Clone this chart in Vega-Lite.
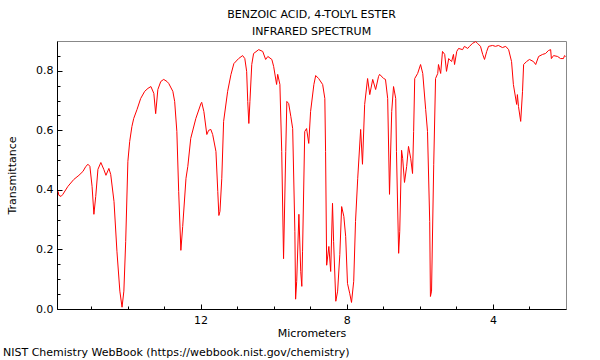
{
  "$schema": "https://vega.github.io/schema/vega-lite/v6.json",
  "background": "white",
  "padding": {"left": 3, "top": 8, "right": 0, "bottom": 0},
  "config": {
    "font": "DejaVu Sans",
    "view": {"stroke": "#888888", "strokeWidth": 1},
    "axis": {"grid": false, "domainColor": "#000000", "tickColor": "#000000", "labelColor": "#000000", "titleColor": "#000000", "labelFontSize": 11, "titleFontSize": 11, "titleFontWeight": "normal", "labelFont": "DejaVu Sans", "titleFont": "DejaVu Sans"}
  },
  "title": {"text": "NIST Chemistry WebBook (https://webbook.nist.gov/chemistry)", "orient": "bottom", "anchor": "start", "fontSize": 11, "fontWeight": "normal", "font": "DejaVu Sans", "color": "#000000", "offset": 8, "dx": -3},
  "vconcat": [
    {
      "width": 509,
      "height": 268,
      "title": {"text": ["BENZOIC ACID, 4-TOLYL ESTER", "INFRARED SPECTRUM"], "fontSize": 11, "fontWeight": "normal", "font": "DejaVu Sans", "color": "#000000", "lineHeight": 17, "offset": 4, "anchor": "middle"},
      "data": {"values": [
        {"um": 15.90, "t": 0.395}, {"um": 15.88, "t": 0.382}, {"um": 15.82, "t": 0.378}, {"um": 15.77, "t": 0.385},
        {"um": 15.63, "t": 0.412}, {"um": 15.47, "t": 0.435}, {"um": 15.33, "t": 0.449}, {"um": 15.22, "t": 0.462},
        {"um": 15.14, "t": 0.479}, {"um": 15.08, "t": 0.486}, {"um": 15.03, "t": 0.479}, {"um": 14.97, "t": 0.412},
        {"um": 14.92, "t": 0.318}, {"um": 14.87, "t": 0.378}, {"um": 14.81, "t": 0.469}, {"um": 14.73, "t": 0.492},
        {"um": 14.65, "t": 0.469}, {"um": 14.59, "t": 0.449}, {"um": 14.51, "t": 0.472}, {"um": 14.46, "t": 0.452},
        {"um": 14.37, "t": 0.361}, {"um": 14.29, "t": 0.194}, {"um": 14.21, "t": 0.06}, {"um": 14.15, "t": 0.006},
        {"um": 14.10, "t": 0.06}, {"um": 14.05, "t": 0.227}, {"um": 13.99, "t": 0.496}, {"um": 13.94, "t": 0.563},
        {"um": 13.88, "t": 0.613}, {"um": 13.83, "t": 0.64}, {"um": 13.74, "t": 0.67}, {"um": 13.64, "t": 0.707},
        {"um": 13.53, "t": 0.731}, {"um": 13.44, "t": 0.741}, {"um": 13.36, "t": 0.747}, {"um": 13.28, "t": 0.724},
        {"um": 13.23, "t": 0.656}, {"um": 13.17, "t": 0.737}, {"um": 13.09, "t": 0.764}, {"um": 13.01, "t": 0.771},
        {"um": 12.92, "t": 0.764}, {"um": 12.87, "t": 0.757}, {"um": 12.76, "t": 0.731}, {"um": 12.71, "t": 0.697},
        {"um": 12.65, "t": 0.596}, {"um": 12.60, "t": 0.395}, {"um": 12.54, "t": 0.197}, {"um": 12.49, "t": 0.277},
        {"um": 12.40, "t": 0.439}, {"um": 12.35, "t": 0.479}, {"um": 12.27, "t": 0.573}, {"um": 12.13, "t": 0.640},
        {"um": 11.99, "t": 0.690}, {"um": 11.97, "t": 0.694}, {"um": 11.91, "t": 0.663}, {"um": 11.83, "t": 0.586},
        {"um": 11.78, "t": 0.600}, {"um": 11.72, "t": 0.603}, {"um": 11.67, "t": 0.586}, {"um": 11.58, "t": 0.529},
        {"um": 11.53, "t": 0.395}, {"um": 11.50, "t": 0.314}, {"um": 11.47, "t": 0.328}, {"um": 11.42, "t": 0.439},
        {"um": 11.37, "t": 0.630}, {"um": 11.26, "t": 0.731}, {"um": 11.17, "t": 0.787}, {"um": 11.09, "t": 0.824},
        {"um": 10.96, "t": 0.841}, {"um": 10.85, "t": 0.851}, {"um": 10.79, "t": 0.841}, {"um": 10.74, "t": 0.798},
        {"um": 10.71, "t": 0.697}, {"um": 10.68, "t": 0.623}, {"um": 10.65, "t": 0.697}, {"um": 10.60, "t": 0.821},
        {"um": 10.55, "t": 0.858}, {"um": 10.41, "t": 0.871}, {"um": 10.30, "t": 0.865}, {"um": 10.22, "t": 0.838},
        {"um": 10.16, "t": 0.848}, {"um": 10.05, "t": 0.838}, {"um": 10.00, "t": 0.814}, {"um": 9.92, "t": 0.754},
        {"um": 9.89, "t": 0.788}, {"um": 9.83, "t": 0.754}, {"um": 9.78, "t": 0.529}, {"um": 9.73, "t": 0.169},
        {"um": 9.67, "t": 0.529}, {"um": 9.64, "t": 0.697}, {"um": 9.59, "t": 0.690}, {"um": 9.53, "t": 0.646},
        {"um": 9.48, "t": 0.606}, {"um": 9.42, "t": 0.261}, {"um": 9.40, "t": 0.033}, {"um": 9.37, "t": 0.093},
        {"um": 9.31, "t": 0.318}, {"um": 9.26, "t": 0.126}, {"um": 9.23, "t": 0.076}, {"um": 9.21, "t": 0.194},
        {"um": 9.15, "t": 0.596}, {"um": 9.10, "t": 0.606}, {"um": 9.04, "t": 0.556}, {"um": 8.99, "t": 0.663},
        {"um": 8.90, "t": 0.754}, {"um": 8.85, "t": 0.784}, {"um": 8.77, "t": 0.774}, {"um": 8.66, "t": 0.754},
        {"um": 8.60, "t": 0.707}, {"um": 8.58, "t": 0.529}, {"um": 8.55, "t": 0.147}, {"um": 8.49, "t": 0.210},
        {"um": 8.44, "t": 0.126}, {"um": 8.39, "t": 0.355}, {"um": 8.36, "t": 0.227}, {"um": 8.30, "t": 0.026},
        {"um": 8.25, "t": 0.06}, {"um": 8.19, "t": 0.183}, {"um": 8.14, "t": 0.344}, {"um": 8.08, "t": 0.311},
        {"um": 8.03, "t": 0.244}, {"um": 7.98, "t": 0.086}, {"um": 7.92, "t": 0.053}, {"um": 7.87, "t": 0.022},
        {"um": 7.81, "t": 0.093}, {"um": 7.76, "t": 0.294}, {"um": 7.70, "t": 0.439}, {"um": 7.62, "t": 0.603},
        {"um": 7.57, "t": 0.486}, {"um": 7.51, "t": 0.687}, {"um": 7.43, "t": 0.774}, {"um": 7.37, "t": 0.720},
        {"um": 7.29, "t": 0.771}, {"um": 7.21, "t": 0.737}, {"um": 7.13, "t": 0.781}, {"um": 7.10, "t": 0.788},
        {"um": 6.99, "t": 0.774}, {"um": 6.94, "t": 0.771}, {"um": 6.88, "t": 0.707}, {"um": 6.83, "t": 0.385},
        {"um": 6.77, "t": 0.663}, {"um": 6.72, "t": 0.747}, {"um": 6.66, "t": 0.707}, {"um": 6.64, "t": 0.529},
        {"um": 6.58, "t": 0.187}, {"um": 6.55, "t": 0.261}, {"um": 6.50, "t": 0.533}, {"um": 6.47, "t": 0.506},
        {"um": 6.42, "t": 0.425}, {"um": 6.36, "t": 0.479}, {"um": 6.31, "t": 0.546}, {"um": 6.25, "t": 0.506},
        {"um": 6.20, "t": 0.455}, {"um": 6.17, "t": 0.596}, {"um": 6.14, "t": 0.774}, {"um": 6.06, "t": 0.791},
        {"um": 5.98, "t": 0.821}, {"um": 5.92, "t": 0.791}, {"um": 5.84, "t": 0.670}, {"um": 5.79, "t": 0.596},
        {"um": 5.73, "t": 0.294}, {"um": 5.71, "t": 0.042}, {"um": 5.68, "t": 0.06}, {"um": 5.62, "t": 0.486},
        {"um": 5.57, "t": 0.774}, {"um": 5.51, "t": 0.791}, {"um": 5.49, "t": 0.821}, {"um": 5.43, "t": 0.791},
        {"um": 5.38, "t": 0.865}, {"um": 5.32, "t": 0.855}, {"um": 5.27, "t": 0.798}, {"um": 5.21, "t": 0.841},
        {"um": 5.13, "t": 0.831}, {"um": 5.08, "t": 0.855}, {"um": 5.05, "t": 0.821}, {"um": 4.99, "t": 0.865},
        {"um": 4.94, "t": 0.875}, {"um": 4.83, "t": 0.871}, {"um": 4.78, "t": 0.882}, {"um": 4.69, "t": 0.875},
        {"um": 4.64, "t": 0.882}, {"um": 4.56, "t": 0.892}, {"um": 4.47, "t": 0.898}, {"um": 4.42, "t": 0.892},
        {"um": 4.34, "t": 0.882}, {"um": 4.28, "t": 0.855}, {"um": 4.23, "t": 0.838}, {"um": 4.17, "t": 0.865},
        {"um": 4.12, "t": 0.882}, {"um": 4.01, "t": 0.885}, {"um": 3.93, "t": 0.882}, {"um": 3.85, "t": 0.885},
        {"um": 3.74, "t": 0.878}, {"um": 3.65, "t": 0.882}, {"um": 3.57, "t": 0.871}, {"um": 3.49, "t": 0.831},
        {"um": 3.44, "t": 0.754}, {"um": 3.35, "t": 0.687}, {"um": 3.33, "t": 0.720}, {"um": 3.30, "t": 0.680},
        {"um": 3.24, "t": 0.630}, {"um": 3.19, "t": 0.731}, {"um": 3.16, "t": 0.821}, {"um": 3.08, "t": 0.831},
        {"um": 3.00, "t": 0.838}, {"um": 2.89, "t": 0.831}, {"um": 2.83, "t": 0.821}, {"um": 2.75, "t": 0.848},
        {"um": 2.64, "t": 0.855}, {"um": 2.56, "t": 0.858}, {"um": 2.48, "t": 0.868}, {"um": 2.42, "t": 0.871},
        {"um": 2.40, "t": 0.841}, {"um": 2.34, "t": 0.851}, {"um": 2.23, "t": 0.848}, {"um": 2.15, "t": 0.841},
        {"um": 2.07, "t": 0.841}, {"um": 2.04, "t": 0.851}, {"um": 2.01, "t": 0.848}
      ]},
      "layer": [
        {
          "mark": {"type": "line", "strokeOpacity": 0},
          "encoding": {
            "x": {"field": "um", "type": "quantitative", "scale": {"domain": [2.0, 15.93], "reverse": true, "nice": false, "zero": false},
                  "axis": {"orient": "bottom", "values": [3, 5, 6, 7, 9, 10, 11, 13, 14, 15], "labels": false, "domain": false, "tickSize": -3, "title": null}},
            "y": {"field": "t", "type": "quantitative", "scale": {"domain": [0, 0.9], "nice": false, "zero": false},
                  "axis": {"orient": "left", "values": [0.05, 0.1, 0.15, 0.25, 0.3, 0.35, 0.45, 0.5, 0.55, 0.65, 0.7, 0.75, 0.85], "labels": false, "domain": false, "tickSize": -3, "title": null}}
          }
        },
        {
          "mark": {"type": "line", "color": "#ff0000", "strokeWidth": 1, "clip": true},
          "encoding": {
            "x": {"field": "um", "type": "quantitative", "scale": {"domain": [2.0, 15.93], "reverse": true, "nice": false, "zero": false},
                  "axis": {"orient": "bottom", "values": [4, 8, 12], "format": "d", "tickSize": -5, "labelPadding": 10, "title": "Micrometers", "titlePadding": 2}},
            "y": {"field": "t", "type": "quantitative", "scale": {"domain": [0, 0.9], "nice": false, "zero": false},
                  "axis": {"orient": "left", "values": [0, 0.2, 0.4, 0.6, 0.8], "format": ".1f", "tickSize": -5, "labelPadding": 9, "title": "Transmittance", "titlePadding": 18}}
          }
        }
      ],
      "resolve": {"axis": {"x": "independent", "y": "independent"}}
    }
  ]
}
